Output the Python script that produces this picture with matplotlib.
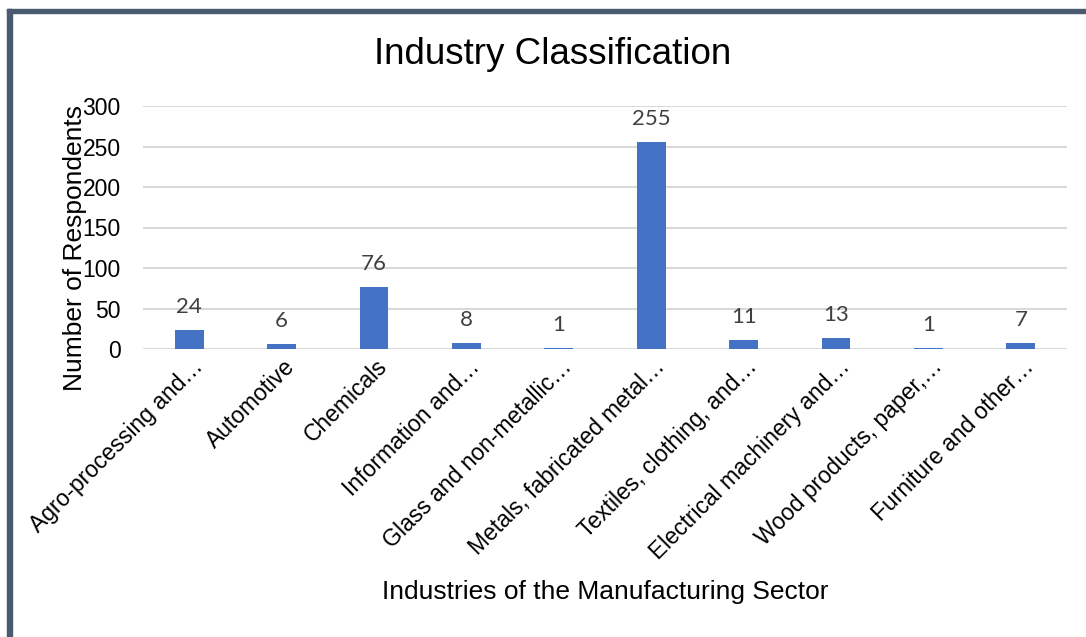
import numpy as np
import matplotlib.pyplot as plt
from matplotlib.patches import Rectangle
from matplotlib.transforms import ScaledTranslation

industries = ['Agro-processing and\u2026', 'Automotive', 'Chemicals',
              'Information and\u2026', 'Glass and non-metallic\u2026',
              'Metals, fabricated metal\u2026', 'Textiles, clothing, and\u2026',
              'Electrical machinery and\u2026', 'Wood products, paper,\u2026',
              'Furniture and other\u2026']
respondents = [24, 6, 76, 8, 1, 255, 11, 13, 1, 7]
yticks = [0, 50, 100, 150, 200, 250, 300]

plt.rcParams['font.family'] = ['Liberation Sans', 'DejaVu Sans']

fig = plt.figure(figsize=(10.86, 6.37), dpi=100)
W, H = 1086, 637
ax = fig.add_axes([143 / W, 1 - 349 / H, (1067 - 143) / W, (349 - 106) / H])

x = np.arange(len(industries))
bars = ax.bar(x, respondents, width=0.31, color='#4472C4', zorder=3)

ax.set_xlim(-0.5, len(industries) - 0.5)
ax.set_ylim(0, 300)
ax.set_yticks(yticks)
ax.yaxis.grid(True, color='#d9d9d9', linewidth=1.5, zorder=0)
for s in ax.spines.values():
    s.set_visible(False)
ax.tick_params(axis='y', length=0, pad=16, labelsize=16.5)
ax.tick_params(axis='x', length=0, pad=6)

ax.set_xticks(x)
ax.set_xticklabels(industries, rotation=45, ha='right', va='center',
                   rotation_mode='anchor', fontsize=16.5)
shift = ScaledTranslation(10 / 100, -6 / 100, fig.dpi_scale_trans)
for lbl in ax.get_xticklabels():
    lbl.set_transform(lbl.get_transform() + shift)

# data labels above each bar
for b, v in zip(bars, respondents):
    ax.annotate(str(v), (b.get_x() + b.get_width() / 2, v),
                xytext=(0, 13), textcoords='offset pixels',
                ha='center', va='bottom', fontsize=16,
                color='#404040', family=['Lato', 'DejaVu Sans'])

fig.text(553 / W, 1 - 55 / H, 'Industry Classification', ha='center',
         va='center', fontsize=26.5)
fig.text(75 / W, 1 - 248 / H, 'Number of Respondents', rotation=90,
         ha='center', va='center', fontsize=19)
fig.text(605 / W, 1 - 592 / H, 'Industries of the Manufacturing Sector',
         ha='center', va='center', fontsize=19)

# frame edges along top and left
fig.patches.append(Rectangle((7 / W, 1 - 12.5 / H), 1, 3.5 / H,
                             transform=fig.transFigure, color='#4a5a70'))
fig.patches.append(Rectangle((7 / W, 0), 5 / W, 1 - 9 / H,
                             transform=fig.transFigure, color='#4a5a70'))

fig.savefig('out.png', dpi=100)
